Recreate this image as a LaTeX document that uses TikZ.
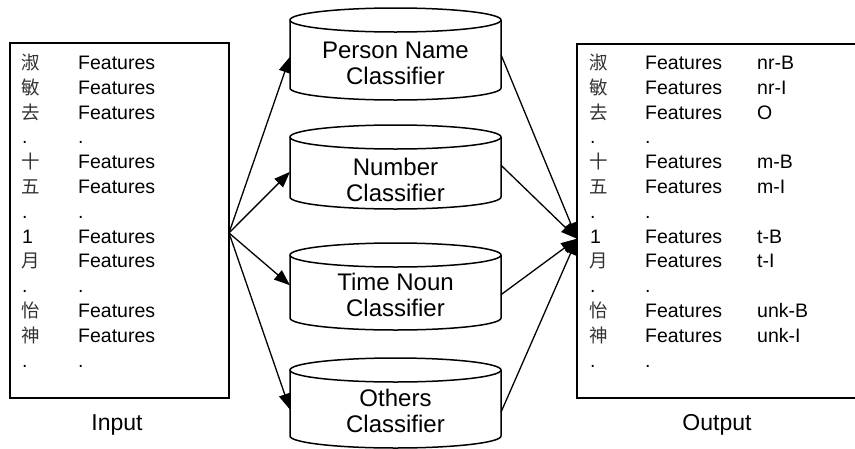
\documentclass[tikz,border=0pt]{standalone}
\usepackage{fontspec}
\setmainfont{Liberation Sans}
\newfontfamily\cjk{Noto Sans CJK SC}
\usetikzlibrary{arrows.meta,calc}
\begin{document}
\begin{tikzpicture}[x=1pt,y=-1pt,
  box/.style={draw, line width=1.7pt, inner sep=0pt, outer sep=0pt},
  cyl/.style={line width=1.5pt},
  body/.style={minimum width=211pt, inner sep=0pt, outer sep=0pt},
  ctext/.style={font=\fontsize{24}{26}\selectfont, align=center, inner sep=0pt},
  cell/.style={anchor=base west, inner sep=0pt, font=\fontsize{19.5}{22}\selectfont},
  han/.style={anchor=base west, inner sep=0pt, font=\cjk\fontsize{18.5}{22}\selectfont, text=black!80},
  lab/.style={anchor=base, inner sep=0pt, font=\fontsize{23}{26}\selectfont},
  arr/.style={line width=1.3pt, -{Triangle[length=16pt,width=12pt]}}
]
\useasboundingbox (0,0) rectangle (855,448);
\clip (0,0) rectangle (855,448);

% boxes
\node[box, minimum width=219pt, minimum height=355pt] (inbox) at (119.5,220.5) {};
\node[box, minimum width=288pt, minimum height=354pt] (outbox) at (721,221) {};
\node[lab] (inlab) at (117,430) {Input};
\node[lab] (outlab) at (717,430) {Output};

% rows
\foreach \i/\h in {0/淑,1/敏,2/去,4/十,5/五,8/月,10/怡,11/神} {
  \node[han] (ih\i) at (21,69.5+24.8*\i) {\h};
  \node[cell] (if\i) at (78,69.5+24.8*\i) {Features};
  \node[han] (oh\i) at (589,69.5+24.8*\i) {\h};
  \node[cell] (of\i) at (645,69.5+24.8*\i) {Features};
}
\node[cell] (ih7) at (22,69.5+24.8*7) {1};
\node[cell] (if7) at (78,69.5+24.8*7) {Features};
\node[cell] (oh7) at (590,69.5+24.8*7) {1};
\node[cell] (of7) at (645,69.5+24.8*7) {Features};
\foreach \i in {3,6,9,12} {
  \node[cell] (id\i) at (22,69.5+24.8*\i) {.};
  \node[cell] (ie\i) at (78,69.5+24.8*\i) {.};
  \node[cell] (od\i) at (590,69.5+24.8*\i) {.};
  \node[cell] (oe\i) at (645,69.5+24.8*\i) {.};
}
\foreach \i/\t in {0/nr-B,1/nr-I,2/O,4/m-B,5/m-I,7/t-B,8/t-I,10/unk-B,11/unk-I} {
  \node[cell] (ot\i) at (757,69.5+24.8*\i) {\t};
}

% cylinders
\foreach \n/\c/\hh in {pn/54/68, nc/167/60, tc/286.5/63, oc/403/66} {
  \node[body, minimum height=\hh pt] (\n) at (395.5,\c) {};
  \draw[cyl] (\n.north west) -- (\n.south west)
     arc[start angle=180, end angle=360, x radius=105.5pt, y radius=12pt]
     -- (\n.north east);
  \draw[cyl] (\n.north) ellipse[x radius=105.5pt, y radius=12pt];
}
\node[ctext] (pnt) at (395.5,63) {Person Name\\Classifier};
\node[ctext] (nct) at (395.5,180) {Number\\Classifier};
\node[ctext] (tct) at (395.5,295) {Time Noun\\Classifier};
\node[ctext] (oct) at (395.5,411) {Others\\Classifier};

% connectors
\coordinate (src) at ($(inbox.north east)!0.535!(inbox.south east)$);
\coordinate (dst) at ($(outbox.north west)!0.55!(outbox.south west)$);
\draw[arr] (src) -- ($(pn.north west)!0.54!(pn.south west)$);
\draw[arr] (src) -- ($(nc.north west)!0.58!(nc.south west)$);
\draw[arr] (src) -- ($(tc.north west)!0.48!(tc.south west)$);
\draw[arr] (src) -- ($(oc.north west)!0.60!(oc.south west)$);
\draw[arr] ($(pn.north east)!0.51!(pn.south east)$) -- (dst);
\draw[arr] ($(nc.north east)!0.47!(nc.south east)$) -- (dst);
\draw[arr] ($(tc.north east)!0.63!(tc.south east)$) -- (dst);
\draw[arr] ($(oc.north east)!0.64!(oc.south east)$) -- (dst);
\end{tikzpicture}
\end{document}
